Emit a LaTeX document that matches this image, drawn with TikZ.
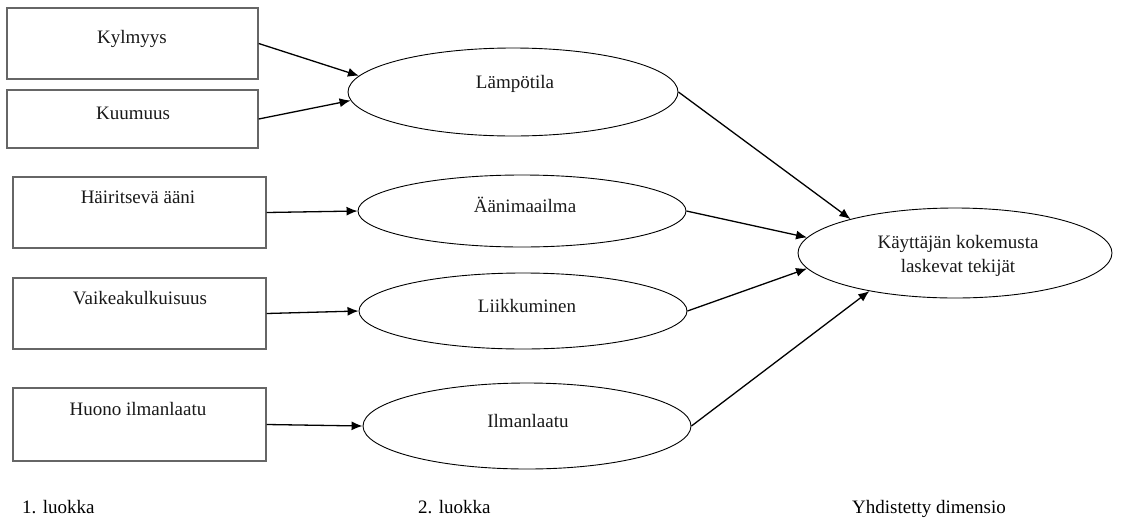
\documentclass[tikz,border=0pt]{standalone}
\usepackage{fontspec}
\setmainfont{Liberation Serif}
\usetikzlibrary{arrows.meta,shapes.geometric}
\begin{document}
\begin{tikzpicture}[x=1pt,y=-1pt,
  font=\fontsize{19pt}{24.5pt}\selectfont,
  factorbox/.style={draw=black!60, line width=1.4pt, rectangle, inner sep=0pt},
  classell/.style={draw=black, line width=0.9pt, ellipse, inner sep=0pt},
  lbl/.style={anchor=base, inner sep=0pt, text=black!90},
  link/.style={draw=black, line width=1.3pt, -{Latex[length=11pt,width=9pt]}}]
  \fill[white] (0,0) rectangle (1125,520);
  \useasboundingbox (0,0) rectangle (1125,520);

  % first-level factors
  \node[factorbox, minimum width=251pt, minimum height=71pt] (kylm) at (132.5,43.5) {};
  \node[factorbox, minimum width=251pt, minimum height=58pt] (kuum) at (132.5,119) {};
  \node[factorbox, minimum width=253pt, minimum height=71pt] (hair) at (139.5,212.5) {};
  \node[factorbox, minimum width=253pt, minimum height=71pt] (vaik) at (139.5,313.5) {};
  \node[factorbox, minimum width=253pt, minimum height=73pt] (huon) at (139.5,424.5) {};
  \node[lbl] (tkylm) at (132,43) {Kylmyys};
  \node[lbl] (tkuum) at (133,119) {Kuumuus};
  \node[lbl] (thair) at (138,203) {Häiritsevä ääni};
  \node[lbl] (tvaik) at (140,304) {Vaikeakulkuisuus};
  \node[lbl] (thuon) at (138,415) {Huono ilmanlaatu};

  % second-level classes
  \node[classell, minimum width=330pt, minimum height=88pt] (lampo) at (513,92) {};
  \node[classell, minimum width=328pt, minimum height=72pt] (aani) at (522,211) {};
  \node[classell, minimum width=328pt, minimum height=76pt] (liik) at (523,311) {};
  \node[classell, minimum width=328pt, minimum height=86pt] (ilma) at (527,426) {};
  \node[lbl] (tlampo) at (515,88) {Lämpötila};
  \node[lbl] (taani) at (525,212) {Äänimaailma};
  \node[lbl] (tliik) at (527,312) {Liikkuminen};
  \node[lbl] (tilma) at (528,427) {Ilmanlaatu};

  % combined dimension
  \node[classell, minimum width=314pt, minimum height=90pt] (kayt) at (955,253) {};
  \node[lbl] (tkayt1) at (958,248) {Käyttäjän kokemusta};
  \node[lbl] (tkayt2) at (958,272.5) {laskevat tekijät};

  % connectors
  \draw[link] (kylm.east) -- (lampo.174.6);
  \draw[link] (kuum.east) -- (lampo.183.5);
  \draw[link] (hair.east) -- (aani.west);
  \draw[link] (vaik.east) -- (liik.west);
  \draw[link] (huon.east) -- (ilma.west);
  \draw[link] (lampo.east) -- (kayt.162.4);
  \draw[link] (aani.east) -- (kayt.174);
  \draw[link] (liik.east) -- (kayt.186.4);
  \draw[link] (ilma.east) -- (kayt.204);

  % level captions
  \node[anchor=base west, inner sep=0pt] (c1) at (22,513) {1. luokka};
  \node[anchor=base west, inner sep=0pt] (c2) at (418,513) {2. luokka};
  \node[anchor=base west, inner sep=0pt] (c3) at (852,513) {Yhdistetty dimensio};
\end{tikzpicture}
\end{document}
